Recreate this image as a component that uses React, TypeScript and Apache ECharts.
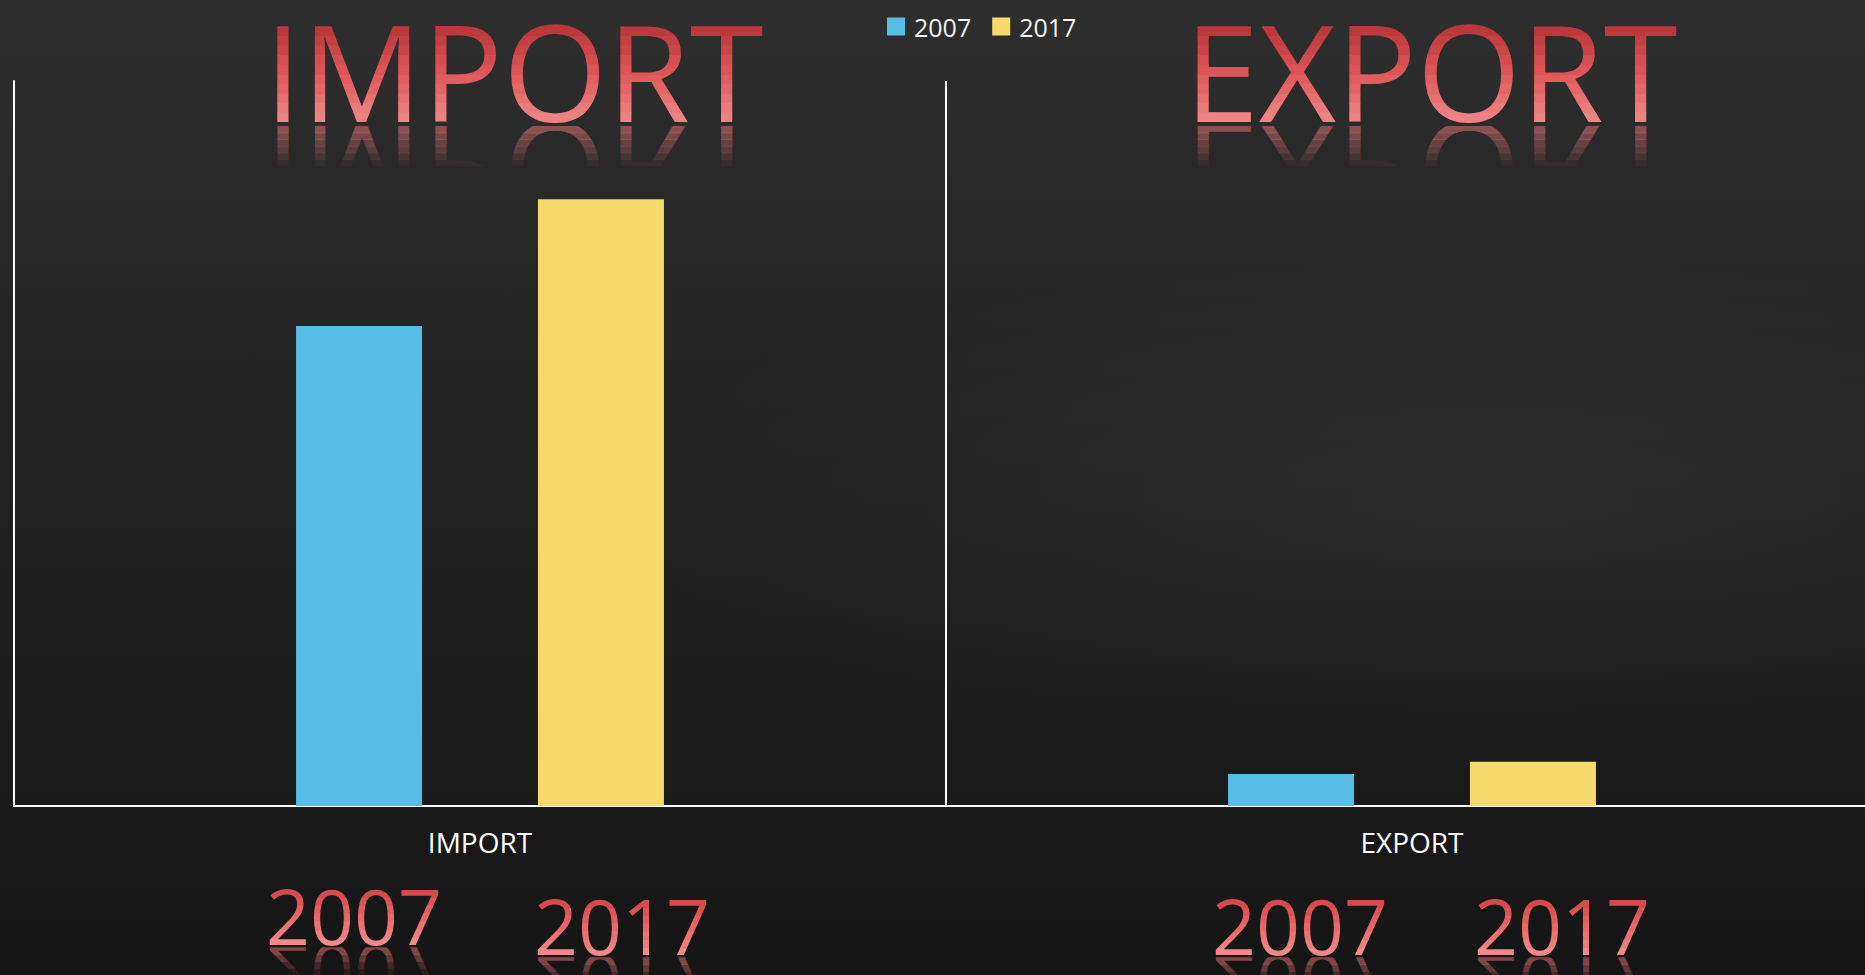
import React, { useEffect, useRef } from 'react';
import * as echarts from 'echarts';

// ---- data ----
const categories = ['IMPORT', 'EXPORT'];
const seriesNames = ['2007', '2017'];
const values2007 = [66.2, 4.4];
const values2017 = [83.7, 6.1];
const yMin = 0;
const yMax = 100;
const titleTexts = ['IMPORT', 'EXPORT'];
const yearLabels = ['2007', '2017', '2007', '2017'];

const BLUE = '#57bde6';
const YELLOW = '#f5d96b';

type RGB = [number, number, number];

function lerp3(stops: RGB[], t: number): RGB {
  const seg = stops.length - 1;
  const p = Math.min(Math.max(t, 0), 1) * seg;
  const i = Math.min(Math.floor(p), seg - 1);
  const f = p - i;
  const a = stops[i];
  const b = stops[i + 1];
  return [0, 1, 2].map((j) => Math.round(a[j] + (b[j] - a[j]) * f)) as RGB;
}

const CENTRAL = 0.388;
const CAP = 0.714;

// Text with a banded vertical colour gradient and a fading mirrored reflection.
function gradientText(
  text: string,
  cx: number,
  base: number,
  fs: number,
  stops: RGB[],
  n: number,
  reflRGB: RGB,
  reflAlpha: number,
  reflFrac: number,
  reflN: number
) {
  const out: any[] = [];
  const capTop = base - CAP * fs;
  const h = (base - capTop) / n;
  const font = { fontSize: fs, fontFamily: '"Open Sans"', align: 'center', verticalAlign: 'middle', legacy: false };
  for (let k = 0; k < n; k++) {
    let y0 = capTop + k * h;
    let y1 = y0 + h;
    if (k === 0) y0 -= 0.15 * fs;
    if (k === n - 1) y1 = base + 0.03 * fs;
    const c = lerp3(stops, (k + 0.5) / n);
    out.push({
      type: 'group',
      clipPath: { type: 'rect', shape: { x: cx - 3 * fs, y: y0, width: 6 * fs, height: y1 - y0 + 0.5 } },
      children: [
        {
          type: 'text',
          x: cx,
          y: base - CENTRAL * fs,
          style: { ...font, text, fill: `rgb(${c[0]},${c[1]},${c[2]})` },
        },
      ],
    });
  }
  const rh = (reflFrac * CAP * fs) / reflN;
  for (let k = 0; k < reflN; k++) {
    const y0 = base + 0.03 * fs + k * rh;
    const a = reflAlpha * (1 - (k + 0.3) / reflN);
    out.push({
      type: 'group',
      clipPath: { type: 'rect', shape: { x: cx - 3 * fs, y: y0, width: 6 * fs, height: rh + 0.5 } },
      children: [
        {
          type: 'text',
          x: cx,
          y: base + CENTRAL * fs,
          scaleY: -1,
          style: { ...font, text, fill: `rgba(${reflRGB[0]},${reflRGB[1]},${reflRGB[2]},${a.toFixed(3)})` },
        },
      ],
    });
  }
  return out;
}

export default function App() {
  const ref = useRef<HTMLDivElement>(null);
  useEffect(() => {
    const chart = echarts.init(ref.current!, null, { renderer: 'svg' });

    const titleCenters = [514, 1431];
    const yearPos = [
      { cx: 354, base: 945 },
      { cx: 622, base: 955 },
      { cx: 1300, base: 955 },
      { cx: 1562, base: 955 },
    ];
    const titleStops: RGB[] = [
      [184, 52, 56],
      [224, 88, 88],
      [240, 136, 136],
    ];
    const yearStops: RGB[] = [
      [210, 70, 72],
      [232, 104, 104],
      [243, 142, 142],
    ];

    const decor: any[] = [];
    titleTexts.forEach((t, i) => {
      decor.push(...gradientText(t, titleCenters[i], 122, 134, titleStops, 10, [236, 120, 120], 0.55, 0.42, 6));
    });
    yearLabels.forEach((t, i) => {
      decor.push(...gradientText(t, yearPos[i].cx, yearPos[i].base, 77, yearStops, 7, [236, 120, 120], 0.55, 0.5, 4));
    });

    const option: any = {
      animation: false,
      backgroundColor: new echarts.graphic.LinearGradient(0, 0, 0, 1, [
        { offset: 0, color: '#2e2e2e' },
        { offset: 0.35, color: '#242424' },
        { offset: 0.7, color: '#1d1d1d' },
        { offset: 1, color: '#151515' },
      ]),
      graphic: [
        {
          type: 'rect',
          shape: { x: 0, y: 250, width: 1865, height: 500 },
          z: 0,
          silent: true,
          style: {
            fill: new echarts.graphic.RadialGradient(0.8, 0.5, 0.5, [
              { offset: 0, color: 'rgba(255,255,255,0.04)' },
              { offset: 1, color: 'rgba(255,255,255,0)' },
            ]),
          },
        },
      ],
      legend: {
        left: 882,
        top: 9,
        icon: 'rect',
        itemWidth: 18,
        itemHeight: 18,
        itemGap: 21,
        data: seriesNames,
        textStyle: {
          color: '#f2f2f2',
          fontSize: 25,
          fontFamily: '"Open Sans"',
          padding: [0, 0, 0, 4],
        },
      },
      grid: { left: 14, top: 81, width: 1864, height: 725, outerBoundsMode: 'none', containLabel: false },
      xAxis: {
        type: 'category',
        data: categories,
        axisLine: { show: true, lineStyle: { color: '#ffffff', width: 2 } },
        axisTick: { show: false },
        splitLine: { show: true, lineStyle: { color: '#ffffff', width: 2 } },
        axisLabel: {
          color: '#ffffff',
          fontSize: 28,
          fontFamily: '"Open Sans"',
          margin: 22,
        },
      },
      yAxis: {
        type: 'value',
        min: yMin,
        max: yMax,
        axisLine: { show: true, lineStyle: { color: '#ffffff', width: 2 } },
        axisTick: { show: false },
        axisLabel: { show: false },
        splitLine: { show: false },
      },
      series: [
        {
          name: seriesNames[0],
          type: 'bar',
          data: values2007,
          barWidth: 126,
          barGap: '92%',
          itemStyle: { color: BLUE },
        },
        {
          name: seriesNames[1],
          type: 'bar',
          data: values2017,
          barWidth: 126,
          barGap: '92%',
          itemStyle: { color: YELLOW },
        },
        {
          type: 'custom',
          coordinateSystem: 'none',
          silent: true,
          z: 10,
          data: [0],
          renderItem: () => ({ type: 'group', children: decor }),
        },
      ],
    };
    chart.setOption(option);
    return () => chart.dispose();
  }, []);
  return (
    <div
      ref={ref}
      style={{ position: 'fixed', left: 0, top: 0, width: 1865, height: 975 }}
    />
  );
}
